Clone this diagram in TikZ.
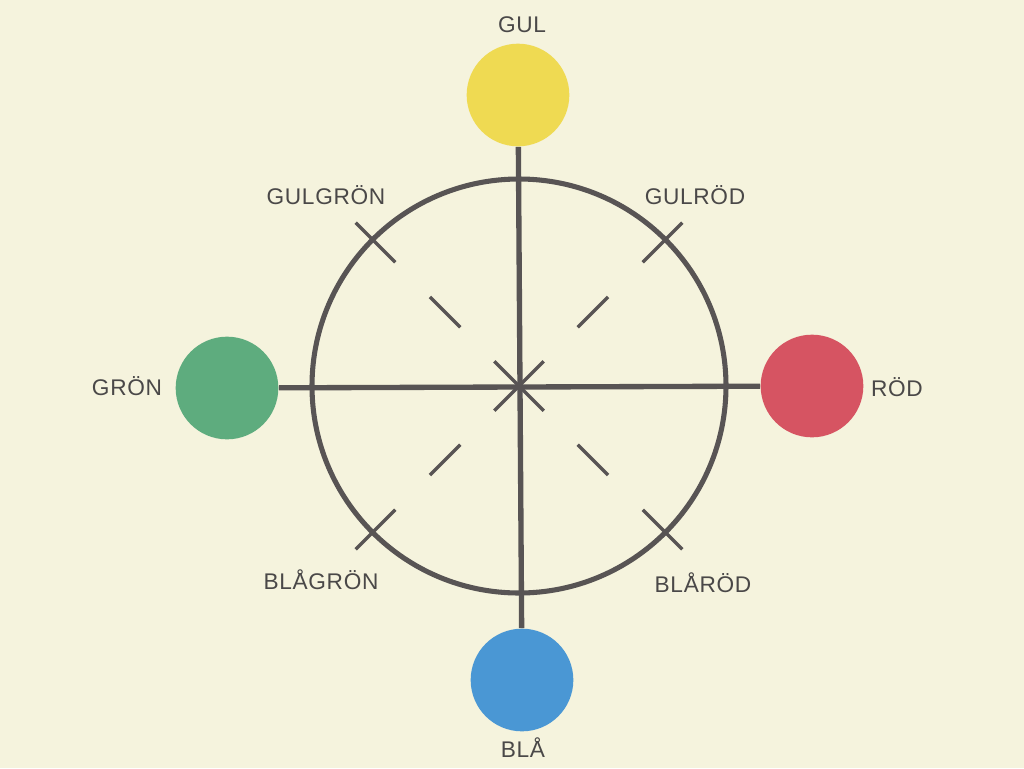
\documentclass[tikz,border=0pt]{standalone}
\usepackage{fontspec}
\newfontfamily\labelfont[LetterSpace=3]{Liberation Sans}
\definecolor{paper}{RGB}{245,243,221}
\definecolor{ink}{RGB}{88,84,84}
\definecolor{txt}{RGB}{74,72,72}
\definecolor{gul}{RGB}{239,218,82}
\definecolor{gron}{RGB}{94,172,126}
\definecolor{rod}{RGB}{214,84,98}
\definecolor{bla}{RGB}{74,151,212}

\tikzset{every picture/.style={line width=0.75pt}}
\tikzset{
  spot/.style={circle, inner sep=0pt, minimum size=77pt},
  lbl/.style={font=\labelfont\fontsize{17}{20}\selectfont, text=txt, inner sep=0pt},
  axis/.style={draw=ink, line width=4pt},
  tick/.style={draw=ink, line width=2.5pt}
}

\begin{document}
\begin{tikzpicture}[x=0.75pt,y=0.75pt,yscale=-1,xscale=1]
	%set diagram size 1024 x 768
	\fill [paper] (0,0) rectangle (1024,768);

	\coordinate (c) at (519,386);

	%Shape: Circle [gul]
	\node [spot, fill=gul] (gul) at (518,95) {};
	%Shape: Circle [gron]
	\node [spot, fill=gron] (gron) at (227,388) {};
	%Shape: Circle [rod]
	\node [spot, fill=rod] (rod) at (812,386) {};
	%Shape: Circle [bla]
	\node [spot, fill=bla] (bla) at (522,680) {};

	%Straight Lines
	\draw [axis] (gul) -- (bla);
	\draw [axis] (gron) -- (rod);

	%Shape: Circle
	\draw [draw=ink, line width=3.8pt] (c) circle (207);

	%Ticks
	\foreach \a in {45,135,225,315} {
		\draw [tick, shift={(c)}] (\a:175) -- (\a:231);
		\draw [tick, shift={(c)}] (\a:83) -- (\a:126);
	}
	\draw [tick, shift={(c)}] (45:35) -- (225:35);
	\draw [tick, shift={(c)}] (135:35) -- (315:35);

	% Text Node
	\node [lbl] (tgul) at (522,25) {GUL};
	% Text Node
	\node [lbl] (tgulgron) at (326,195) {GULGRÖN};
	% Text Node
	\node [lbl] (tgulrod) at (695,195) {GULRÖD};
	% Text Node
	\node [lbl] (tgron) at (127,386) {GRÖN};
	% Text Node
	\node [lbl] (trod) at (897,387) {RÖD};
	% Text Node
	\node [lbl] (tblagron) at (321,580) {BLÅGRÖN};
	% Text Node
	\node [lbl] (tblarod) at (703,583) {BLÅRÖD};
	% Text Node
	\node [lbl] (tbla) at (523,748) {BLÅ};

\end{tikzpicture}
\end{document}
